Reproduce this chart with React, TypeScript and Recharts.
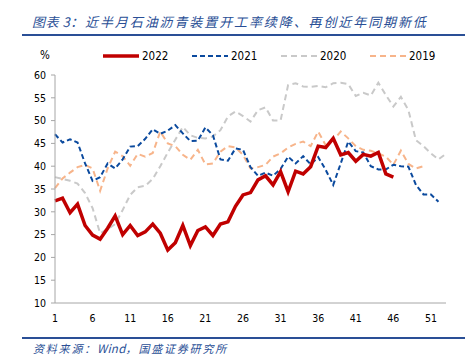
import { LineChart, Line, XAxis, YAxis } from 'recharts';

// week numbers on the x axis
const weeks = [
  1, 2, 3, 4, 5, 6, 7, 8, 9, 10, 11, 12, 13, 14, 15, 16, 17, 18, 19, 20, 21, 22, 23, 24, 25, 26,
  27, 28, 29, 30, 31, 32, 33, 34, 35, 36, 37, 38, 39, 40, 41, 42, 43, 44, 45, 46, 47, 48, 49, 50,
  51, 52, 53,
];

const yTicks = [10, 15, 20, 25, 30, 35, 40, 45, 50, 55, 60];

// 石油沥青装置开工率 (%)
const y2022 = [
  32.4, 33.0, 29.8, 31.7, 27.0, 24.9, 24.0, 26.4, 29.1, 25.0,
  27.0, 24.8, 25.6, 27.3, 25.3, 21.6, 23.2, 27.0, 22.6, 25.9,
  26.7, 24.8, 27.3, 27.8, 31.2, 33.7, 34.2, 37.0, 37.9, 35.9,
  38.8, 34.4, 38.9, 38.3, 39.9, 44.4, 44.1, 46.1, 42.5, 43.0,
  41.1, 42.6, 42.2, 43.0, 38.3, 37.6,
];
const y2021 = [
  47.0, 45.2, 45.9, 45.2, 40.6, 36.8, 37.6, 40.6, 39.5, 41.5,
  44.3, 44.4, 46.0, 48.1, 47.1, 47.8, 49.0, 47.2, 45.5, 45.6,
  48.5, 46.8, 41.5, 41.2, 43.9, 43.6, 39.8, 37.9, 38.6, 37.9,
  39.4, 42.1, 40.6, 42.2, 40.4, 42.0, 39.2, 35.9, 40.6, 45.4,
  43.3, 43.0, 40.0, 39.3, 39.3, 40.3, 40.0, 39.9, 35.9, 33.8,
  33.8, 32.2,
];
const y2020 = [
  37.6, 37.2, 36.8, 36.2, 34.1, 30.8, 25.3, 26.2, 27.3, 30.4,
  33.7, 35.4, 35.7, 37.2, 40.0, 43.0, 45.8, 48.6, 46.8, 46.2,
  46.1, 46.5, 47.9, 50.9, 52.0, 51.0, 49.8, 52.3, 52.9, 50.0,
  50.0, 57.8, 58.2, 57.5, 57.4, 57.6, 57.3, 58.2, 58.3, 58.0,
  55.4, 56.1, 55.5, 58.3, 55.6, 53.1, 55.2, 52.3, 45.7, 44.4,
  42.8, 41.5, 42.7,
];
const y2019 = [
  35.2, 37.3, 38.6, 39.8, 40.3, 39.5, 34.6, 39.5, 43.2, 42.2,
  40.1, 42.7, 42.1, 42.9, 47.6, 45.0, 44.4, 42.5, 41.4, 43.6,
  40.4, 40.6, 43.2, 44.4, 44.1, 42.5, 39.5, 39.8, 40.3, 42.1,
  42.8, 44.1, 44.9, 45.4, 44.4, 47.6, 44.6, 45.7, 47.6, 46.1,
  44.4, 43.6, 43.4, 42.8, 42.1, 40.3, 43.4, 40.5, 39.5, 40.0,
];

const data = weeks.map((w, i) => ({
  week: w,
  y2022: y2022[i],
  y2021: y2021[i],
  y2020: y2020[i],
  y2019: y2019[i],
}));

const FONT = "'DejaVu Sans Condensed', 'DejaVu Sans', sans-serif";
const CJK = "'Noto Sans CJK SC', sans-serif";
const BLUE = '#2a4f96';

const legendItems = [
  { name: '2022', color: '#c00000', width: 3.5, dash: undefined, left: 103 },
  { name: '2021', color: '#0b4a9e', width: 2, dash: '5 3', left: 192 },
  { name: '2020', color: '#c9c9c9', width: 2, dash: '6 4', left: 281 },
  { name: '2019', color: '#f7b48a', width: 2, dash: '6 4', left: 370 },
];

export default function App() {
  return (
    <div
      style={{
        position: 'relative',
        width: 473,
        height: 364,
        margin: -8,
        background: '#fff',
        overflow: 'hidden',
      }}
    >
      <div
        style={{
          position: 'absolute',
          left: 32,
          top: 12,
          fontFamily: CJK,
          fontSize: 13,
          fontStyle: 'italic',
          color: BLUE,
          whiteSpace: 'nowrap',
          letterSpacing: 1.9,
        }}
      >
        <span style={{ letterSpacing: 0.5 }}>图表 3</span>：近半月石油沥青装置开工率续降、再创近年同期新低
      </div>
      <div style={{ position: 'absolute', left: 22, top: 34, width: 443, height: 2, background: BLUE }} />

      <LineChart
        width={473}
        height={364}
        data={data}
        margin={{ top: 75, right: 27, bottom: 31, left: 20 }}
        style={{ position: 'absolute', left: 0, top: 0 }}
      >
        <XAxis
          dataKey="week"
          interval={4}
          tickLine={false}
          axisLine={{ stroke: '#a6a6a6' }}
          tick={{ fontSize: 10.5, fill: '#000', fontFamily: FONT }}
          tickMargin={6}
          height={30}
        />
        <YAxis
          domain={[10, 60]}
          ticks={yTicks}
          width={35}
          tickSize={4}
          tickMargin={5}
          axisLine={{ stroke: '#a6a6a6' }}
          tickLine={{ stroke: '#a6a6a6' }}
          tick={{ fontSize: 10.5, fill: '#000', fontFamily: FONT }}
        />
        <Line
          dataKey="y2020"
          stroke="#c9c9c9"
          strokeWidth={2}
          strokeDasharray="6 4"
          dot={false}
          isAnimationActive={false}
        />
        <Line
          dataKey="y2019"
          stroke="#f7b48a"
          strokeWidth={2}
          strokeDasharray="6 4"
          dot={false}
          isAnimationActive={false}
        />
        <Line
          dataKey="y2021"
          stroke="#0b4a9e"
          strokeWidth={2}
          strokeDasharray="5 3"
          dot={false}
          isAnimationActive={false}
        />
        <Line
          dataKey="y2022"
          stroke="#c00000"
          strokeWidth={3.5}
          dot={false}
          isAnimationActive={false}
        />
      </LineChart>

      <div style={{ position: 'absolute', left: 40, top: 48, fontFamily: FONT, fontSize: 11.5 }}>%</div>
      {legendItems.map((it) => (
        <div key={it.name} style={{ position: 'absolute', left: it.left, top: 48, height: 16 }}>
          <svg width={36} height={16} style={{ position: 'absolute', left: 0, top: 0 }}>
            <line
              x1={0}
              y1={8}
              x2={36}
              y2={8}
              stroke={it.color}
              strokeWidth={it.width}
              strokeDasharray={it.dash}
            />
          </svg>
          <span
            style={{
              position: 'absolute',
              left: 39,
              top: 0,
              fontFamily: FONT,
              fontSize: 11.5,
              lineHeight: '16px',
            }}
          >
            {it.name}
          </span>
        </div>
      ))}

      <div style={{ position: 'absolute', left: 22, top: 337, width: 443, height: 2, background: BLUE }} />
      <div
        style={{
          position: 'absolute',
          left: 33,
          top: 340,
          fontFamily: CJK,
          fontSize: 11,
          fontStyle: 'italic',
          color: BLUE,
          whiteSpace: 'nowrap',
          letterSpacing: 1.8,
        }}
      >
        资料来源：<span style={{ letterSpacing: 0.3, fontSize: 11.5 }}>Wind</span>，国盛证券研究所
      </div>
    </div>
  );
}
